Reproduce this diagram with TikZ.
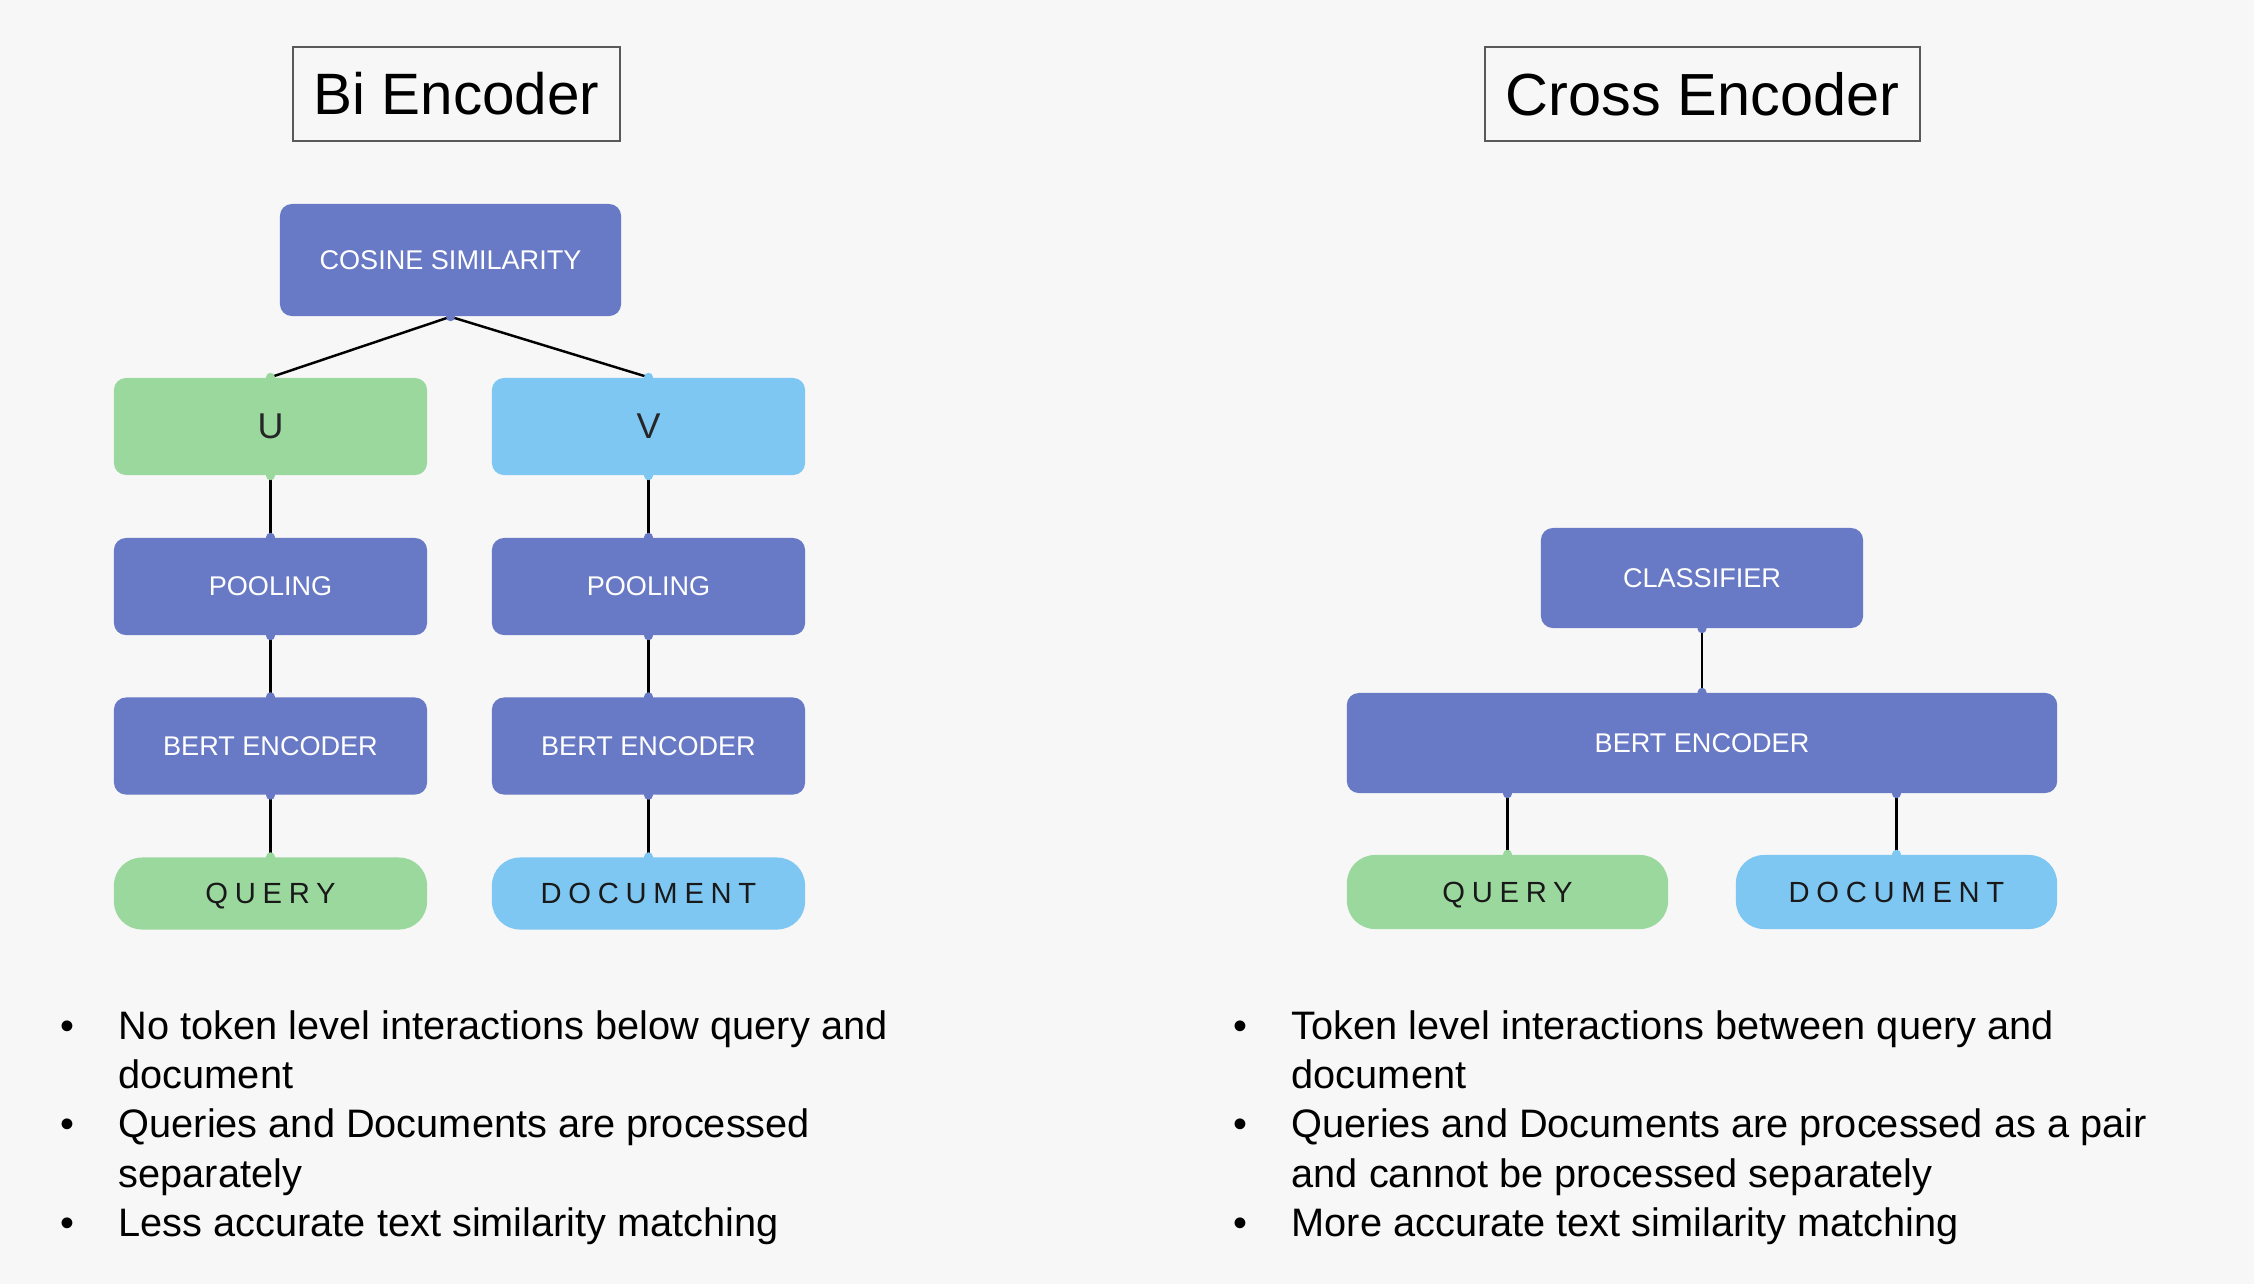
\documentclass[tikz,border=0pt]{standalone}
\usepackage{fontspec}
\setmainfont{Liberation Sans}
\newfontfamily\trackedfont[LetterSpace=23]{Liberation Sans}

\definecolor{encblue}{HTML}{6879C5}
\definecolor{qgreen}{HTML}{9BD89E}
\definecolor{dblue}{HTML}{7FC7F3}
\definecolor{pagebg}{HTML}{F7F7F7}

\newcommand{\noteitem}{\makebox[0.58cm][l]{\textbullet}}
\newcommand{\notecont}{\hspace*{0.58cm}}

\begin{document}
\begin{tikzpicture}[
    x=0.01cm,y=-0.01cm,
    every node/.style={font=\fontsize{7.7}{9}\selectfont},
    headbox/.style={draw=black!65, line width=0.6pt, minimum height=0.94cm, font=\fontsize{16.6}{20}\selectfont},
    block/.style={fill=encblue, rounded corners=0.12cm, text=white, minimum width=3.13cm, minimum height=0.97cm},
    vec/.style={rounded corners=0.12cm, text=black!85, minimum width=3.13cm, minimum height=0.97cm, font=\fontsize{10.2}{12}\selectfont},
    inbox/.style={rounded corners=0.28cm, minimum width=3.13cm, minimum height=0.72cm, text=black!90, text depth=0pt, font=\fontsize{8.3}{10}\trackedfont},
    link/.style={draw=black, line width=0.7pt},
    notes/.style={anchor=north west, align=left, inner sep=0pt, font=\fontsize{11.3}{14}\selectfont}
]
    \fill[pagebg] (0,0) rectangle (2254,1284);

    \node[headbox, minimum width=3.27cm] (bihead) at (456.5,94) {Bi Encoder};
    \node[headbox, minimum width=4.34cm, font=\fontsize{16.9}{20}\selectfont] (crosshead) at (1702.5,94) {Cross Encoder};

    % bi encoder
    \node[block, minimum width=3.41cm, minimum height=1.12cm] (cos) at (450.5,260) {COSINE SIMILARITY};
    \node[vec, fill=qgreen] (u) at (270.5,426.5) {U};
    \node[vec, fill=dblue] (v) at (648.5,426.5) {V};
    \node[block] (poolq) at (270.5,586.5) {POOLING};
    \node[block] (poold) at (648.5,586.5) {POOLING};
    \node[block] (bertq) at (270.5,746) {BERT ENCODER};
    \node[block] (bertd) at (648.5,746) {BERT ENCODER};
    \node[inbox, fill=qgreen] (qry) at (270.5,893.5) {QUERY};
    \node[inbox, fill=dblue] (doc) at (648.5,893.5) {DOCUMENT};

    \draw[link] (cos.south) -- (u.north);
    \draw[link] (cos.south) -- (v.north);
    \draw[link] (u.south) -- (poolq.north);
    \draw[link] (v.south) -- (poold.north);
    \draw[link] (poolq.south) -- (bertq.north);
    \draw[link] (poold.south) -- (bertd.north);
    \draw[link] (bertq.south) -- (qry.north);
    \draw[link] (bertd.south) -- (doc.north);

    % cross encoder
    \node[block, minimum width=3.22cm, minimum height=1.0cm] (cls) at (1702,578) {CLASSIFIER};
    \node[block, minimum width=7.1cm, minimum height=1.0cm] (bert) at (1702,743) {BERT ENCODER};
    \node[inbox, fill=qgreen, minimum width=3.21cm, minimum height=0.74cm] (xqry) at (1507.5,892) {QUERY};
    \node[inbox, fill=dblue, minimum width=3.21cm, minimum height=0.74cm] (xdoc) at (1896.5,892) {DOCUMENT};
    \coordinate (bq) at (xqry.north |- bert.south);
    \coordinate (bd) at (xdoc.north |- bert.south);

    \draw[link] (cls.south) -- (bert.north);
    \draw[link] (bq) -- (xqry.north);
    \draw[link] (bd) -- (xdoc.north);

    % connection dots
    \foreach \a/\c in {cos.south/encblue, u.north/qgreen, v.north/dblue, u.south/qgreen, v.south/dblue,
        poolq.north/encblue, poold.north/encblue, poolq.south/encblue, poold.south/encblue,
        bertq.north/encblue, bertd.north/encblue, bertq.south/encblue, bertd.south/encblue,
        qry.north/qgreen, doc.north/dblue, cls.south/encblue, bert.north/encblue,
        bq/encblue, bd/encblue, xqry.north/qgreen, xdoc.north/dblue}
        \fill[\c] (\a) circle (0.045cm);

    \node[notes] (binotes) at (60,1010) {\noteitem No token level interactions below query and\\
        \notecont document\\
        \noteitem Queries and Documents are processed\\
        \notecont separately\\
        \noteitem Less accurate text similarity matching};
    \node[notes] (crossnotes) at (1233,1010) {\noteitem Token level interactions between query and\\
        \notecont document\\
        \noteitem Queries and Documents are processed as a pair\\
        \notecont and cannot be processed separately\\
        \noteitem More accurate text similarity matching};
\end{tikzpicture}
\end{document}
